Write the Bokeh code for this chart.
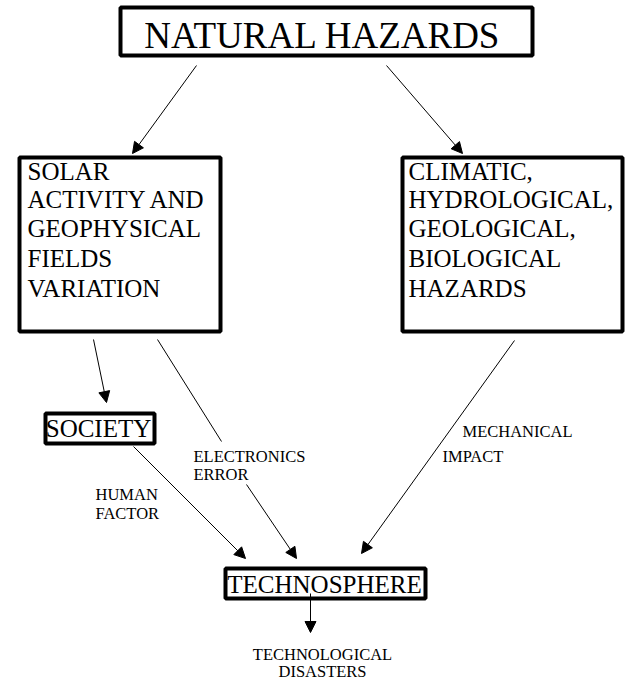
from bokeh.plotting import figure
from bokeh.models import Range1d, Arrow, NormalHead, ColumnDataSource
from bokeh.core.properties import value
from bokeh.embed import file_html
from bokeh.resources import INLINE

# ---- diagram content (page-pixel coordinates of the reference) ----
box_names = ["NATURAL HAZARDS", "SOLAR BOX", "CLIMATIC BOX", "SOCIETY", "TECHNOSPHERE"]
box_left = [120, 19, 402, 45, 225]
box_right = [532, 220, 622, 154, 425]
box_top = [7, 157, 157, 413, 568]
box_bottom = [55, 331, 331, 443, 598]

title_text = ["NATURAL HAZARDS"]
title_x = [322]
title_y = [35]

solar_lines = ["SOLAR", "ACTIVITY AND", "GEOPHYSICAL", "FIELDS", "VARIATION"]
climatic_lines = ["CLIMATIC,", "HYDROLOGICAL,", "GEOLOGICAL,", "BIOLOGICAL", "HAZARDS"]
line_baselines = [171, 199, 228, 258, 288]
solar_x = 27
climatic_x = 408

mid_labels = ["SOCIETY", "TECHNOSPHERE"]
mid_x = [98, 324]
mid_y = [428, 584]

small_left = ["ELECTRONICS", "ERROR", "HUMAN", "FACTOR", "MECHANICAL", "IMPACT"]
small_left_x = [193, 193, 95, 95, 462, 442]
small_left_y = [456, 474, 494, 513, 431, 456]

small_center = ["TECHNOLOGICAL", "DISASTERS"]
small_center_x = [322, 322]
small_center_y = [654, 671]

arrow_x0 = [196, 386, 93, 246, 133, 514, 310]
arrow_y0 = [65, 65, 339, 484, 446, 340, 593]
arrow_x1 = [132, 462, 106, 296, 245, 361, 310]
arrow_y1 = [153, 153, 402, 558, 558, 553, 632]

plain_x0 = [157]
plain_y0 = [339]
plain_x1 = [221]
plain_y1 = [441]

# ---- figure ----
p = figure(width=626, height=683, x_range=Range1d(0, 626), y_range=Range1d(683, 0),
           output_backend="svg", toolbar_location=None, min_border=0,
           x_axis_type=None, y_axis_type=None)
p.grid.visible = False
p.outline_line_color = None
p.background_fill_color = "white"
p.border_fill_color = "white"

FONT = value("Liberation Serif")

# boxes
p.quad(left=box_left, right=box_right, top=box_top, bottom=box_bottom,
       fill_color="white", line_color="black", line_width=4)

# arrows
asrc = ColumnDataSource(dict(x0=arrow_x0, y0=arrow_y0, x1=arrow_x1, y1=arrow_y1))
p.add_layout(Arrow(end=NormalHead(size=11, fill_color="black", line_color="black", line_width=1),
                   x_start="x0", y_start="y0", x_end="x1", y_end="y1",
                   source=asrc, line_color="black", line_width=1))
p.segment(x0=plain_x0, y0=plain_y0, x1=plain_x1, y1=plain_y1, line_color="black", line_width=1)

# texts
p.text(x=title_x, y=title_y, text=title_text, text_font=FONT, text_font_size=value("37px"),
       text_align="center", text_baseline="alphabetic", text_color="black")
p.text(x=[solar_x] * len(solar_lines), y=line_baselines, text=solar_lines, text_font=FONT,
       text_font_size=value("25px"), text_align="left", text_baseline="alphabetic", text_color="black")
p.text(x=[climatic_x] * len(climatic_lines), y=line_baselines, text=climatic_lines, text_font=FONT,
       text_font_size=value("25px"), text_align="left", text_baseline="alphabetic", text_color="black")
p.text(x=mid_x, y=mid_y, text=mid_labels, text_font=FONT, text_font_size=value("25px"),
       text_align="center", text_baseline="alphabetic", text_color="black")
p.text(x=small_left_x, y=small_left_y, text=small_left, text_font=FONT, text_font_size=value("16.5px"),
       text_align="left", text_baseline="alphabetic", text_color="black")
p.text(x=small_center_x, y=small_center_y, text=small_center, text_font=FONT,
       text_font_size=value("16.5px"), text_align="center", text_baseline="alphabetic", text_color="black")

open("out.html", "w").write(file_html(p, INLINE))
